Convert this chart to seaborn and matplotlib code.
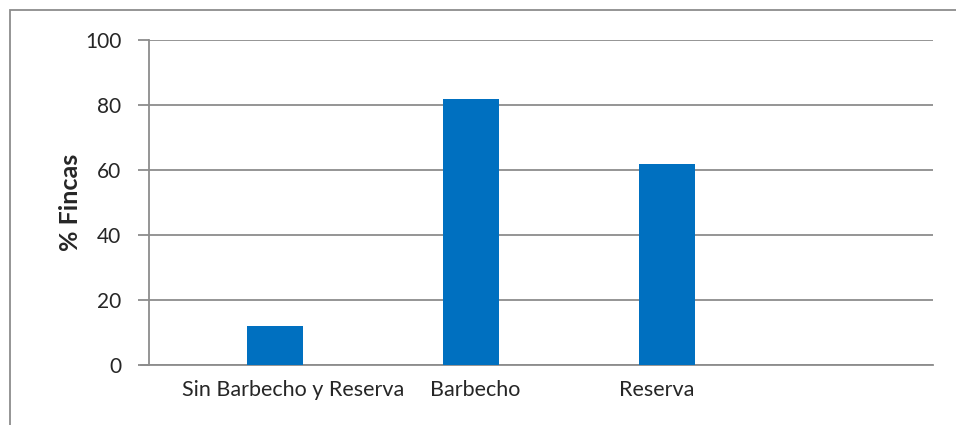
import matplotlib
matplotlib.use("Agg")
import matplotlib.pyplot as plt
import seaborn as sns
import pandas as pd
from matplotlib.patches import Rectangle

categories = ["Sin Barbecho y Reserva", "Barbecho", "Reserva"]
values = [12, 82, 62]
y_ticks = [0, 20, 40, 60, 80, 100]
y_label = "% Fincas"

sns.set_theme(style="white")
plt.rcParams['font.family'] = ['Lato', 'DejaVu Sans']

df = pd.DataFrame({
    "cat": categories * 2,
    "serie": ["S1"] * len(categories) + ["S2"] * len(categories),
    "val": [0] * len(categories) + values,
})

fig = plt.figure(figsize=(9.56, 4.25), dpi=100)
fig.patches.append(Rectangle((9.5 / 956, -0.1), 1.2, (425 - 10.5) / 425 + 0.1,
                             transform=fig.transFigure, fill=False,
                             edgecolor="#8c8c8c", linewidth=1.3, zorder=0))
ax = fig.add_axes([149 / 956, 60 / 425, (933 - 149) / 956, (365 - 40) / 425])

sns.barplot(data=df, x="cat", y="val", hue="serie", hue_order=["S1", "S2"],
            order=categories, palette=["#0070C0", "#0070C0"], width=2 / 3.5,
            linewidth=0, saturation=1, legend=False, ax=ax, zorder=3)

ax.set_xlim(-0.5, 3.5)
ax.set_ylim(0, 100)
ax.set_yticks(y_ticks)
ax.set_yticklabels([str(t) for t in y_ticks], fontsize=15)
ax.yaxis.grid(True, color="#8c8c8c", linewidth=1.3, zorder=0)
ax.set_axisbelow(True)
ax.tick_params(axis="y", direction="out", length=8, width=1.3, color="#8c8c8c",
               pad=12, left=True)
ax.tick_params(axis="x", length=0, pad=11)
label_pos = [0.235, 1.163, 2.092]
ax.set_xticks(label_pos)
ax.set_xticklabels(categories, fontsize=15.5)
ax.set_xlabel("")
ax.set_ylabel(y_label, fontsize=18, fontweight="bold", labelpad=2)
for s in ["top", "right"]:
    ax.spines[s].set_visible(False)
for s in ["left", "bottom"]:
    ax.spines[s].set_color("#8c8c8c")
    ax.spines[s].set_linewidth(1.3)
ax.spines["bottom"].set_bounds(-0.5 - 8 / 196, 3.5)

fig.savefig("out.png", dpi=100, facecolor="white")
